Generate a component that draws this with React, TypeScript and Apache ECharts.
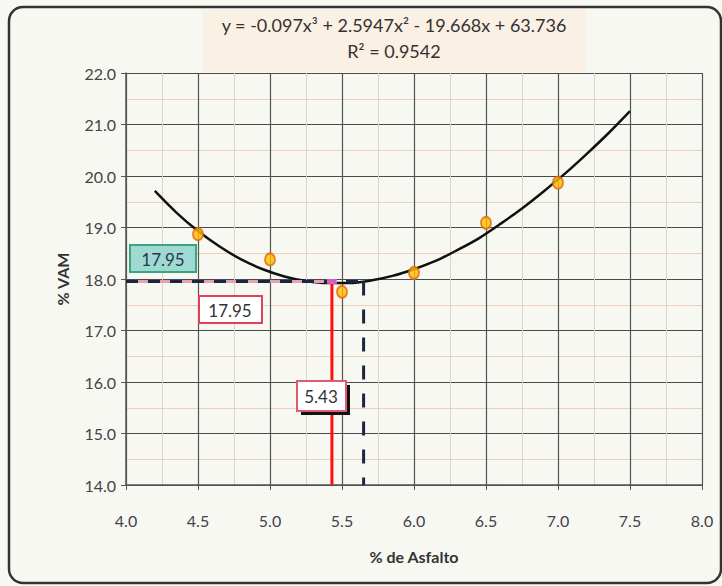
import React, { useEffect, useRef } from "react";
import * as echarts from "echarts";

const measuredX = [4.5, 5.0, 5.5, 6.0, 6.5, 7.0];
const measuredVam = [18.87, 18.38, 17.75, 18.12, 19.09, 19.87];

const trendX = [4.2, 4.35, 4.5, 4.65, 4.8, 4.95, 5.1, 5.25, 5.4, 5.55, 5.7, 5.85, 6.0, 6.15, 6.3, 6.45, 6.6, 6.75, 6.9, 7.05, 7.2, 7.35, 7.5];
const trendY = [19.71, 19.29, 18.93, 18.63, 18.38, 18.19, 18.05, 17.96, 17.92, 17.92, 17.97, 18.06, 18.19, 18.35, 18.56, 18.79, 19.07, 19.37, 19.7, 20.05, 20.43, 20.83, 21.26];

const optimumAsphalt = 5.43;
const optimumVam = 17.95;
const secondAsphalt = 5.65;

const equationText = "y = -0.097x³ + 2.5947x² - 19.668x + 63.736";
const r2Text = "R² = 0.9542";

const FONT = "Lato, 'Open Sans', sans-serif";

export default function App() {
  const ref = useRef<HTMLDivElement>(null);
  useEffect(() => {
    if (!ref.current) return;
    const chart = echarts.init(ref.current, null, { renderer: "svg" });
    chart.setOption({
      animation: false,
      backgroundColor: "#f8f8f3",
      grid: { left: 126, right: 20, top: 73, bottom: 101 },
      xAxis: {
        type: "value",
        min: 4,
        max: 8,
        interval: 0.5,
        name: "% de Asfalto",
        nameLocation: "middle",
        nameGap: 63,
        nameTextStyle: { fontFamily: FONT, fontSize: 16, fontWeight: "bold", color: "#333" },
        axisLabel: { formatter: (v: number) => v.toFixed(1), fontFamily: FONT, fontSize: 16, color: "#444", margin: 27 },
        axisLine: { lineStyle: { color: "#555", width: 1.5 } },
        axisTick: { show: true, inside: false, length: 5, lineStyle: { color: "#555" } },
        splitLine: { show: true, lineStyle: { color: "#555", width: 1.2 } },
        minorTick: { show: false, splitNumber: 2 },
        minorSplitLine: { show: true, lineStyle: { color: "#ddd3c8", width: 1 } },
      },
      yAxis: {
        type: "value",
        min: 14,
        max: 22,
        interval: 1,
        name: "% VAM",
        nameLocation: "middle",
        nameGap: 56,
        nameTextStyle: { fontFamily: FONT, fontSize: 16, fontWeight: "bold", color: "#333" },
        axisLabel: { formatter: (v: number) => v.toFixed(1), fontFamily: FONT, fontSize: 16, color: "#444", margin: 10 },
        axisLine: { show: true, lineStyle: { color: "#555", width: 1.5 } },
        axisTick: { show: true, inside: false, length: 5, lineStyle: { color: "#555" } },
        splitLine: { show: true, lineStyle: { color: "#4a4a4a", width: 1.2 } },
        minorTick: { show: false, splitNumber: 2 },
        minorSplitLine: { show: true, lineStyle: { color: "#ecd0bc", width: 1 } },
      },
      series: [
        {
          type: "line",
          name: "trend",
          data: trendX.map((x, i) => [x, trendY[i]]),
          smooth: 0.3,
          showSymbol: false,
          lineStyle: { color: "#111", width: 2.5 },
          z: 3,
        },
        {
          type: "line",
          name: "pinkH",
          data: [[4, optimumVam], [optimumAsphalt, optimumVam]],
          showSymbol: false,
          lineStyle: { color: "#e8a0b4", width: 3 },
          z: 4,
        },
        {
          type: "line",
          name: "dashH",
          data: [[4, optimumVam], [secondAsphalt, optimumVam]],
          showSymbol: false,
          lineStyle: { color: "#1c2540", width: 3, type: [12, 10] },
          z: 5,
        },
        {
          type: "line",
          name: "redV",
          data: [[optimumAsphalt, optimumVam], [optimumAsphalt, 14]],
          showSymbol: false,
          lineStyle: { color: "#ff1010", width: 3 },
          z: 5,
        },
        {
          type: "line",
          name: "dashV",
          data: [[secondAsphalt, optimumVam], [secondAsphalt, 14]],
          showSymbol: false,
          lineStyle: { color: "#1c2540", width: 3, type: [14, 14] },
          z: 5,
        },
        {
          type: "scatter",
          name: "opt",
          data: [[optimumAsphalt, optimumVam]],
          symbol: "rect",
          symbolSize: [10, 5],
          itemStyle: { color: "#f070e0" },
          z: 6,
        },
        {
          type: "scatter",
          name: "VAM",
          data: measuredX.map((x, i) => [x, measuredVam[i]]),
          symbol: "circle",
          symbolSize: [10, 12],
          itemStyle: { color: "#ffc000", borderColor: "#e46c0a", borderWidth: 2 },
          z: 7,
        },
      ],
      graphic: [
        {
          type: "rect",
          shape: { x: 9, y: 7, width: 712, height: 576, r: 14 },
          style: { fill: "none", stroke: "#333", lineWidth: 2.5 },
          z: 100,
        },
        {
          type: "rect",
          shape: { x: 203, y: 10, width: 383, height: 62 },
          style: { fill: "#fbf0e4" },
          z: 90,
        },
        {
          type: "text",
          x: 394,
          y: 25,
          style: { text: equationText, font: `18px ${FONT}`, fill: "#333", align: "center", verticalAlign: "middle" },
          z: 91,
        },
        {
          type: "text",
          x: 394,
          y: 51,
          style: { text: r2Text, font: `18px ${FONT}`, fill: "#333", align: "center", verticalAlign: "middle" },
          z: 91,
        },
        {
          type: "rect",
          shape: { x: 130, y: 245, width: 66, height: 27 },
          style: { fill: "#9fdad2", stroke: "#3aa57e", lineWidth: 2 },
          z: 92,
        },
        {
          type: "text",
          x: 163,
          y: 259,
          style: { text: "17.95", font: `17px ${FONT}`, fill: "#2a3550", align: "center", verticalAlign: "middle" },
          z: 93,
        },
        {
          type: "rect",
          shape: { x: 199, y: 296, width: 63, height: 27 },
          style: { fill: "#ffffff", stroke: "#e0405a", lineWidth: 2 },
          z: 92,
        },
        {
          type: "text",
          x: 230,
          y: 310,
          style: { text: "17.95", font: `17px ${FONT}`, fill: "#333", align: "center", verticalAlign: "middle" },
          z: 93,
        },
        {
          type: "rect",
          shape: { x: 301, y: 385, width: 49, height: 30 },
          style: { fill: "#111" },
          z: 91,
        },
        {
          type: "rect",
          shape: { x: 297, y: 381, width: 49, height: 30 },
          style: { fill: "#ffffff", stroke: "#e05a70", lineWidth: 2 },
          z: 92,
        },
        {
          type: "text",
          x: 321,
          y: 396,
          style: { text: "5.43", font: `17px ${FONT}`, fill: "#333", align: "center", verticalAlign: "middle" },
          z: 93,
        },
      ],
    });
    return () => chart.dispose();
  }, []);
  return <div ref={ref} style={{ width: 722, height: 586, position: "absolute", left: 0, top: 0 }} />;
}
